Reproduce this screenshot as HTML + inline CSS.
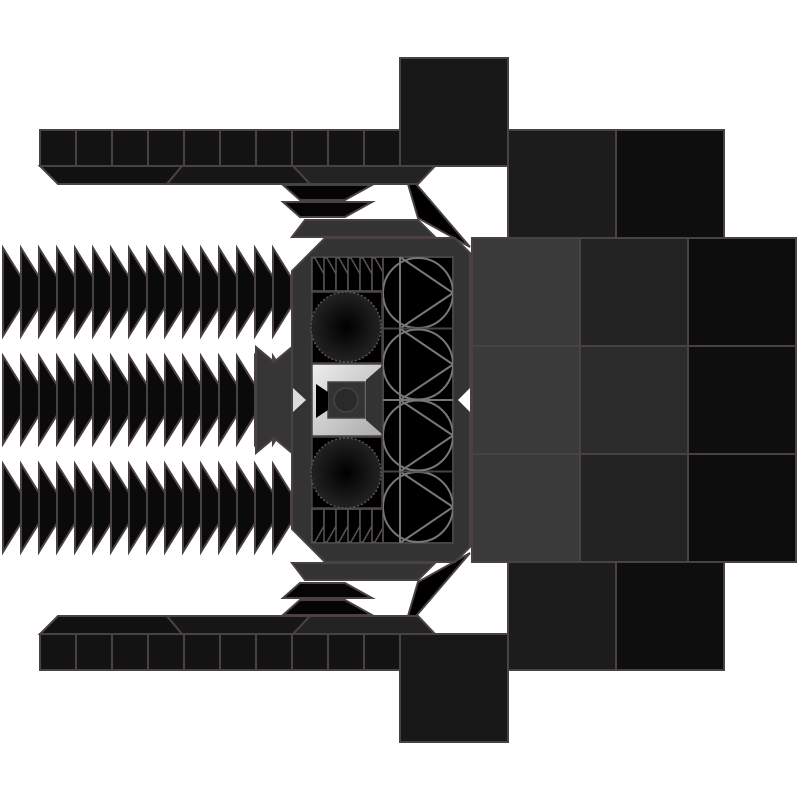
<!DOCTYPE html>
<html><head><style>html,body{margin:0;padding:0;background:#fff}svg{display:block}</style></head>
<body>
<svg width="800" height="800" viewBox="0 0 800 800" xmlns="http://www.w3.org/2000/svg">
<defs>
<radialGradient id="cg"><stop offset="0" stop-color="#000"/><stop offset="1" stop-color="#222"/></radialGradient>
<linearGradient id="lg" x1="0" y1="0" x2="1" y2="1"><stop offset="0" stop-color="#eee"/><stop offset="1" stop-color="#aaa"/></linearGradient>
<clipPath id="cc"><rect x="383" y="0" width="70" height="71.5"/></clipPath>
<g id="fin"><polygon points="0,0 18,29 18,59 0,88" fill="#0a0a0a" stroke="#4a4242" stroke-width="2"/></g>
<g id="finrow">
<use href="#fin" x="3"/><use href="#fin" x="21"/><use href="#fin" x="39"/><use href="#fin" x="57"/>
<use href="#fin" x="75"/><use href="#fin" x="93"/><use href="#fin" x="111"/><use href="#fin" x="129"/>
<use href="#fin" x="147"/><use href="#fin" x="165"/><use href="#fin" x="183"/><use href="#fin" x="201"/>
<use href="#fin" x="219"/><use href="#fin" x="237"/><use href="#fin" x="255"/><use href="#fin" x="273"/>
</g>
<g id="sfin"><polygon points="0,0 3,0 12,16 12,33 0,33" fill="#000" stroke="#555" stroke-width="1.5"/></g>
<g id="cell">
<rect x="383" y="0" width="70" height="71.5" fill="#000" stroke="#4a4242" stroke-width="2"/>
<g fill="none" stroke="#777" stroke-width="2" clip-path="url(#cc)">
<circle cx="418" cy="36" r="35"/>
<line x1="400" y1="0" x2="400" y2="71.5"/>
<line x1="400" y1="0" x2="453" y2="36"/>
<line x1="453" y1="36" x2="400" y2="71.5"/>
</g>
<line x1="383" y1="71.5" x2="453" y2="71.5" stroke="#777" stroke-width="2"/>
</g>
<g id="half">
<rect x="40" y="130" width="360" height="36" fill="#131313" stroke="#4a4242" stroke-width="2"/>
<g stroke="#4a4242" stroke-width="2">
<line x1="76" y1="130" x2="76" y2="166"/><line x1="112" y1="130" x2="112" y2="166"/><line x1="148" y1="130" x2="148" y2="166"/>
<line x1="184" y1="130" x2="184" y2="166"/><line x1="220" y1="130" x2="220" y2="166"/><line x1="256" y1="130" x2="256" y2="166"/>
<line x1="292" y1="130" x2="292" y2="166"/><line x1="328" y1="130" x2="328" y2="166"/><line x1="364" y1="130" x2="364" y2="166"/>
</g>
<rect x="400" y="58" width="108" height="108" fill="#181818" stroke="#4a4242" stroke-width="2"/>
<polygon points="40,166 182,166 167,184 58,184" fill="#111" stroke="#4a4242" stroke-width="2"/>
<polygon points="182,166 293,166 310,184 167,184" fill="#161616" stroke="#4a4242" stroke-width="2"/>
<polygon points="293,166 435,166 418,184 310,184" fill="#232323" stroke="#4a4242" stroke-width="2"/>
<polygon points="283,185 372,185 345,200 300,200" fill="#050505" stroke="#4a4242" stroke-width="2"/>
<polygon points="283,202 372,202 345,217 300,217" fill="#050505" stroke="#4a4242" stroke-width="2"/>
<polygon points="305,220 418,220 435,237 292,237" fill="#333" stroke="#4a4242" stroke-width="2"/>
<polygon points="408,184 416,184 470,247 418,218" fill="#000" stroke="#4a4242" stroke-width="2"/>
<rect x="508" y="130" width="108" height="108" fill="#1c1c1c" stroke="#4a4242" stroke-width="2"/>
<rect x="616" y="130" width="108" height="108" fill="#0e0e0e" stroke="#4a4242" stroke-width="2"/>
</g>
</defs>

<use href="#half"/>
<use href="#half" transform="translate(0,800) scale(1,-1)"/>

<use href="#finrow" y="248"/>
<use href="#finrow" y="356"/>
<use href="#finrow" y="464"/>

<polygon points="325,238 455,238 470,253 470,547 455,562 325,562 292,529 292,271" fill="#333" stroke="#4a4242" stroke-width="2"/>
<polygon points="256,347 274,362 292,347 292,453 274,438 256,453" fill="#363636" stroke="#4a4242" stroke-width="2"/>
<polygon points="293,388 306,400 293,412" fill="#ddd"/>
<polygon points="470,388 458,400 470,412" fill="#fff"/>
<rect x="312" y="257" width="141" height="286" fill="#000" stroke="#4a4242" stroke-width="2"/>

<g id="bodyhalf">
<use href="#sfin" x="312" y="258"/><use href="#sfin" x="324" y="258"/><use href="#sfin" x="336" y="258"/>
<use href="#sfin" x="348" y="258"/><use href="#sfin" x="360" y="258"/><use href="#sfin" x="372" y="258"/>
<rect x="312" y="292" width="70" height="71" fill="#000" stroke="#4a4242" stroke-width="1.5"/>
<circle cx="346" cy="327" r="35" fill="url(#cg)" stroke="#555" stroke-width="1.5" stroke-dasharray="2 2"/>
<use href="#cell" y="257"/>
<use href="#cell" y="328.5"/>
</g>
<use href="#bodyhalf" transform="translate(0,800) scale(1,-1)"/>

<rect x="312" y="364" width="70" height="72" fill="url(#lg)" stroke="#4a4242" stroke-width="1.5"/>
<polygon points="366,380 382,366 382,434 366,420" fill="#333"/>
<rect x="328" y="382" width="37" height="36" fill="#333" stroke="#444" stroke-width="1.5"/>
<polygon points="316,384 328,392 328,410 316,418" fill="#000"/>
<circle cx="346" cy="400" r="12" fill="#2a2a2a" stroke="#444" stroke-width="1.5"/>
<line x1="383" y1="400" x2="453" y2="400" stroke="#777" stroke-width="2"/>

<g stroke="#4a4242" stroke-width="2">
<rect x="472" y="238" width="108" height="108" fill="#3a3a3a"/>
<rect x="580" y="238" width="108" height="108" fill="#232323"/>
<rect x="688" y="238" width="108" height="108" fill="#0c0c0c"/>
<rect x="472" y="346" width="108" height="108" fill="#3a3a3a"/>
<rect x="580" y="346" width="108" height="108" fill="#2c2c2c"/>
<rect x="688" y="346" width="108" height="108" fill="#0e0e0e"/>
<rect x="472" y="454" width="108" height="108" fill="#3a3a3a"/>
<rect x="580" y="454" width="108" height="108" fill="#232323"/>
<rect x="688" y="454" width="108" height="108" fill="#0c0c0c"/>
</g>
</svg>
</body></html>
